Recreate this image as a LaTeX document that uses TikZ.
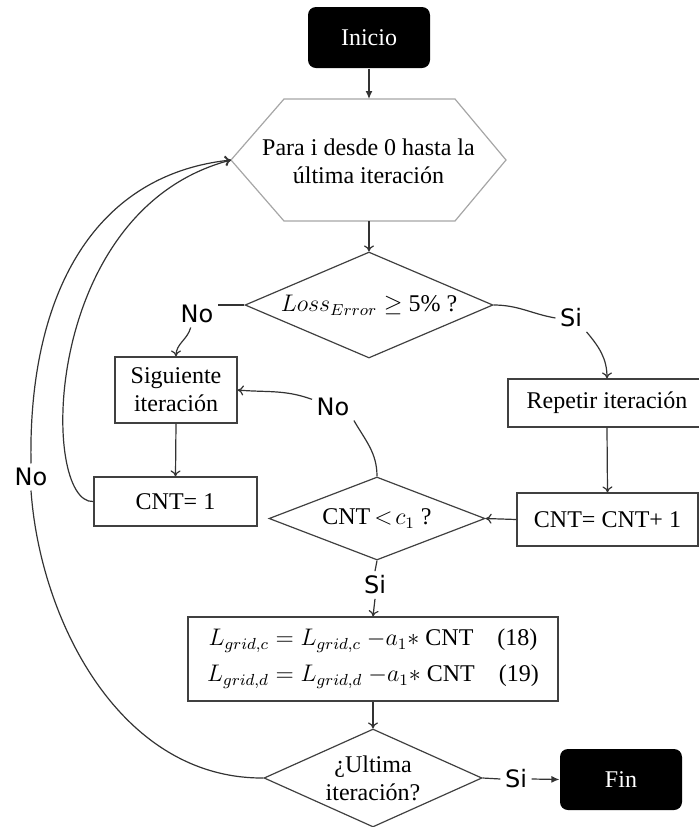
\documentclass[tikz,border=0pt]{standalone}
\usepackage{fontspec}
\setmainfont{Liberation Serif}
\newfontfamily\labfont{DejaVu Sans}
\usetikzlibrary{shapes.geometric,arrows.meta,calc}
\begin{document}
\begin{tikzpicture}[x=0.5pt,y=-0.5pt,
  font=\fontsize{12}{14}\selectfont,
  line width=0.6pt,
  >={To[length=3pt,width=5pt]},
  box/.style={draw=black!75,rectangle,inner sep=0pt,align=center},
  term/.style={rectangle,rounded corners=4pt,fill=black,text=white,inner sep=0pt,minimum width=61pt,minimum height=30.5pt},
  decision/.style={diamond,draw=black!75,inner sep=0pt,align=center},
  lab/.style={font=\labfont\fontsize{12}{14}\selectfont,inner sep=2pt},
  conn/.style={draw=black!80},
  filledtip/.style={-{Latex[length=4pt,width=3.5pt]}},
]
\useasboundingbox (0,0) rectangle (699,827);

% terminals
\node[term] (ini) at (369,37.5) {Inicio};
\node[term] (fin) at (621,779.5) {Fin};

% hexagon (loop header)
\node[align=center,inner sep=0pt] (hex) at (368.5,161) {Para i desde 0 hasta la\\última iteración};
\coordinate (hexT) at (369,99);
\coordinate (hexB) at (369,221);
\coordinate (hexL) at (231,160);
\draw[black!35,line width=0.6pt] (284,99) -- (455,99) -- (506,160) -- (455,221) -- (284,221) -- (hexL) -- cycle;

% decisions
\node[decision,minimum width=124pt,minimum height=53pt,shape aspect=2.34] (d1) at (369,305) {$Loss_{Error}\geq$ 5\% ?};
\node[decision,minimum width=108pt,minimum height=41.5pt,shape aspect=2.6] (d2) at (377,518.5) {CNT\,$<\!c_1$ ?};
\node[decision,minimum width=109pt,minimum height=49pt,shape aspect=2.22] (d3) at (373,778) {¿Ultima\\iteración?};

% process boxes
\node[box,minimum width=61pt,minimum height=33pt] (sig) at (176,390) {Siguiente\\iteración};
\node[box,minimum width=99pt,minimum height=24pt] (rep) at (607,403) {Repetir iteración};
\node[box,minimum width=81.5pt,minimum height=24.5pt] (cnt0) at (175.5,501.5) {CNT= 1};
\node[box,minimum width=90.5pt,minimum height=26.5pt] (cnt1) at (607.5,519.5) {CNT= CNT+ 1};
\node[box,minimum width=185pt,minimum height=42pt] (eq) at (373,659)
  {$L_{grid,c} = L_{grid,c}\ {-}a_{1}{*}$ CNT\quad(18)\\[4pt]
   $L_{grid,d} = L_{grid,d}\ {-}a_{1}{*}$ CNT\quad(19)};

% labels
\node[lab] (n1) at (197,314) {No};
\node[lab] (s1) at (571,318) {Si};
\node[lab] (n2) at (333,407) {No};
\node[lab] (s2) at (375,585) {Si};
\node[lab] (s3) at (516,779) {Si};
\node[lab,fill=white] (n3) at (31,477) {No};

% connectors
\draw[conn,filledtip] (ini.south) -- (hexT);
\draw[conn,->] (hexB) -- (d1.north);
\draw[conn] (d1.west) -- (d1.west -| n1.east);
\draw[conn,->] (n1.245) to[out=-105,in=90] (sig.north);
\draw[conn] (d1.east) to[out=0,in=170] (s1.west);
\draw[conn,->] (s1.south east) to[out=-50,in=90] (rep.north);
\draw[conn,->] (rep.south) -- (cnt1.north);
\draw[conn,->] (cnt1.west) -- (d2.east);
\draw[conn] (d2.north) to[out=90,in=-60] (n2.south east);
\draw[conn,->] (n2.160) to[out=160,in=-5] (sig.east);
\draw[conn,->] (sig.south) -- (cnt0.north);
\draw[conn] (d2.south) -- (s2.north);
\draw[conn,->] (s2.south) -- (eq.north);
\draw[conn,->] (eq.south) -- (d3.north);
\draw[conn] (d3.east) -- (s3.west);
\draw[conn,filledtip] (s3.east) -- (fin.west);
\draw[conn,->] (cnt0.west) .. controls (40,505) and (40,210) .. (hexL);
\draw[conn] (d3.west) .. controls (120,779) and (40,620) .. (n3.south);
\draw[conn,->] (n3.north) .. controls (28,300) and (90,175) .. (hexL);
\end{tikzpicture}
\end{document}
